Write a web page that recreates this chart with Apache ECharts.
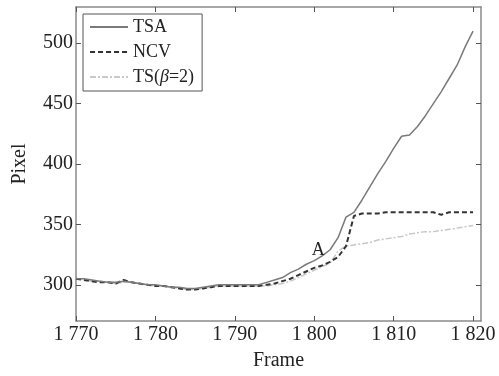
<!DOCTYPE html>
<html>
<head>
<meta charset="utf-8">
<script src="https://cdn.jsdelivr.net/npm/echarts@6/dist/echarts.min.js"></script>
<style>
  html, body { margin: 0; padding: 0; background: #fff; }
  #chart { width: 499px; height: 376px; }
</style>
</head>
<body>
<div id="chart"></div>
<script>
// frame numbers 1770..1820
var frames = [];
for (var f = 1770; f <= 1820; f++) frames.push(f);

var tsa = [
    305, 305, 304, 303, 302, 302, 303, 302, 301, 300,
    300, 299, 298, 298, 297, 297, 298, 299, 300, 300,
    300, 300, 300, 300, 302, 304, 306, 310, 313, 317,
    320, 324, 329, 339, 356, 360, 370, 381, 392, 402,
    413, 423, 424, 431, 440, 450, 460, 471, 482, 497,
    510
];
var ncv = [
    305, 304, 303, 302, 302, 301, 304, 302, 301, 300,
    299, 299, 298, 297, 296, 296, 297, 298, 299, 299,
    299, 299, 299, 299, 300, 301, 303, 305, 308, 311,
    314, 316, 319, 323, 332, 357, 359, 359, 359, 360,
    360, 360, 360, 360, 360, 360, 358, 360, 360, 360,
    360
];
var ts2 = [
    305, 304, 303, 303, 302, 301, 302, 302, 301, 300,
    299, 299, 298, 297, 296, 296, 297, 298, 299, 299,
    299, 299, 299, 299, 299, 300, 301, 303, 306, 309,
    312, 315, 318, 328, 332, 333, 334, 335, 337, 338,
    339, 340, 342, 343, 344, 344, 345, 346, 347, 348,
    349
];

var xTicks = [1770, 1780, 1790, 1800, 1810, 1820];
var yTicks = [300, 350, 400, 450, 500];
var markA = [1800.5, 328.5];

function pairs(vals) {
    return frames.map(function (x, i) { return [x, vals[i]]; });
}

var font = '"Times New Roman", "Liberation Serif", serif';
var axisCol = '#8a8a8a';

function xAx(pos, labels) {
    return {
        type: 'value', position: pos, min: 1770, max: 1821,
        axisLine: { show: true, onZero: false, lineStyle: { color: axisCol, width: 1.5 } },
        axisTick: { show: true, inside: true, length: 5, customValues: xTicks, lineStyle: { color: '#555' } },
        axisLabel: {
            show: labels, customValues: xTicks, color: '#222', fontFamily: font, fontSize: 20, margin: 4,
            formatter: function (v) { return String(v).replace(/^(\d)(\d{3})$/, '$1 $2'); }
        },
        splitLine: { show: false },
        name: labels ? 'Frame' : '', nameLocation: 'middle', nameGap: 30,
        nameTextStyle: { color: '#222', fontFamily: font, fontSize: 20 }
    };
}
function yAx(pos, labels) {
    return {
        type: 'value', position: pos, min: 270, max: 530,
        axisLine: { show: true, onZero: false, lineStyle: { color: axisCol, width: 1.5 } },
        axisTick: { show: true, inside: true, length: 5, customValues: yTicks, lineStyle: { color: '#555' } },
        axisLabel: { show: labels, customValues: yTicks, color: '#222', fontFamily: font, fontSize: 20, margin: 3 },
        splitLine: { show: false },
        name: labels ? 'Pixel' : '', nameLocation: 'middle', nameGap: 46,
        nameTextStyle: { color: '#222', fontFamily: font, fontSize: 20 }
    };
}

var chart = echarts.init(document.getElementById('chart'));
chart.setOption({
    animation: false,
    backgroundColor: '#fff',
    grid: { left: 76, right: 18, top: 7, bottom: 51 },
    xAxis: [xAx('bottom', true), xAx('top', false)],
    yAxis: [yAx('left', true), yAx('right', false)],
    legend: {
        orient: 'vertical', left: 83, top: 14,
        padding: [4, 8, 5, 6], itemGap: 7, itemWidth: 38, itemHeight: 16,
        borderColor: '#555', borderWidth: 1,
        itemStyle: { opacity: 0 },
        textStyle: {
            color: '#222', fontFamily: font, fontSize: 18,
            rich: {
                n: { fontFamily: font, fontSize: 18, color: '#222' },
                i: { fontFamily: font, fontSize: 18, fontStyle: 'italic', color: '#222' }
            }
        },
        formatter: function (name) {
            if (name === 'TS(β=2)') return '{n|TS(}{i|β}{n|=2)}';
            return name;
        },
        data: ['TSA', 'NCV', 'TS(β=2)']
    },
    series: [
        {
            name: 'TS(β=2)', type: 'line', data: pairs(ts2), symbol: 'none', z: 1,
            itemStyle: { color: '#c8c8c8' },
            lineStyle: { color: '#c8c8c8', width: 1.5, type: [6, 2, 2, 2] }
        },
        {
            name: 'NCV', type: 'line', data: pairs(ncv), symbol: 'none', z: 2,
            itemStyle: { color: '#333' },
            lineStyle: { color: '#333', width: 2, type: [5, 3] }
        },
        {
            name: 'TSA', type: 'line', data: pairs(tsa), symbol: 'none', z: 3,
            itemStyle: { color: '#7a7a7a' },
            lineStyle: { color: '#7a7a7a', width: 1.5 },
            markPoint: {
                symbol: 'circle', symbolSize: 0,
                label: { show: true, position: 'inside', formatter: 'A', color: '#222', fontFamily: font, fontSize: 18 },
                data: [{ coord: markA }]
            }
        }
    ]
});
</script>
</body>
</html>
